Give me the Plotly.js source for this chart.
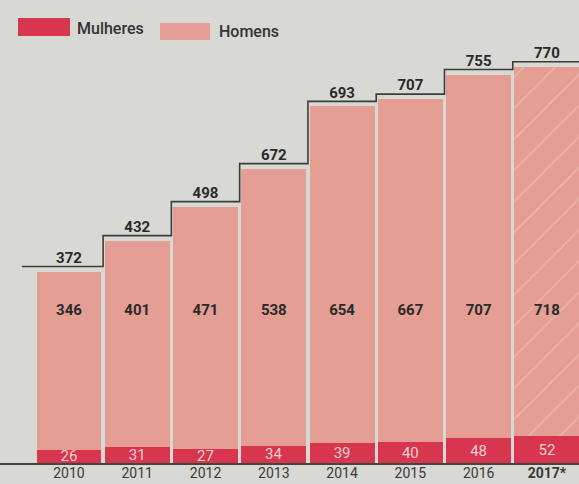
<!DOCTYPE html>
<html>
<head>
<meta charset="utf-8">
<script src="https://cdn.plot.ly/plotly-3.0.1.min.js"></script>
<style>html,body{margin:0;padding:0;background:#d8d8d4;}#chart{width:579px;height:484px;}</style>
</head>
<body>
<div id="chart"></div>
<script>
// ---- data ----
const years = ['2010', '2011', '2012', '2013', '2014', '2015', '2016', '<b>2017*</b>'];
const mulheres = [26, 31, 27, 34, 39, 40, 48, 52];
const homens = [346, 401, 471, 538, 654, 667, 707, 718];
const totalLabels = ['372', '432', '498', '672', '693', '707', '755', '770'];
const hatched = ['', '', '', '', '', '', '', '/'];

// ---- layout helpers ----
const W = 579, H = 484, MB = 21, PH = H - MB;
const px2x = p => p / W;
const px2y = p => (PH - p) / PH;

const idx = years.map((_, i) => i);
const sums = mulheres.map((m, i) => m + homens[i]);
const LINE_OFF = 10;      // step line gap above bars (data units)
const HOMENS_LABEL_Y = 295;

const stepX = [-0.69].concat(idx.slice(1).map(i => i - 0.5)).concat([idx.length - 0.5]);
const stepY = sums.concat([sums[sums.length - 1]]).map(v => v + LINE_OFF);

const FONT = 'Roboto, "Liberation Sans", sans-serif';
const RED = '#d8354f';
const PINK = '#e49e94';

const traces = [
  {
    type: 'bar', name: 'Mulheres', x: idx, y: mulheres,
    text: mulheres.map(String), textposition: 'inside', insidetextanchor: 'middle',
    textangle: 0, constraintext: 'none', cliponaxis: false,
    textfont: {family: FONT, size: 15, color: '#f6d0d0'},
    marker: {color: RED, line: {width: 0}}, hoverinfo: 'skip'
  },
  {
    type: 'bar', name: 'Homens', x: idx, y: homens,
    textposition: 'none',
    marker: {color: PINK, line: {width: 0},
      pattern: {shape: hatched, fillmode: 'overlay', fgcolor: '#f3cfc8', size: 22, solidity: 0.07}},
    hoverinfo: 'skip'
  },
  {
    type: 'scatter', mode: 'text', x: idx, y: homens.map(() => HOMENS_LABEL_Y),
    text: homens.map(String), textposition: 'middle center',
    textfont: {family: FONT, size: 15, color: '#2a2a2a', weight: 'bold'},
    hoverinfo: 'skip', showlegend: false, cliponaxis: false
  },
  {
    type: 'scatter', mode: 'lines', x: stepX, y: stepY,
    line: {shape: 'hv', color: '#3c3c3c', width: 1.6},
    hoverinfo: 'skip', showlegend: false
  },
  {
    type: 'scatter', mode: 'text', x: idx, y: sums.map(v => v + LINE_OFF),
    text: totalLabels, textposition: 'top center',
    textfont: {family: FONT, size: 15, color: '#2a2a2a', weight: 'bold'},
    hoverinfo: 'skip', showlegend: false, cliponaxis: false
  }
];

const layout = {
  width: W, height: H,
  margin: {l: 0, r: 0, t: 0, b: MB, pad: 0},
  paper_bgcolor: '#d8d8d4', plot_bgcolor: '#d8d8d4',
  barmode: 'stack', bargap: 0.05,
  showlegend: false,
  xaxis: {
    range: [-1.01, 7.47], tickmode: 'array', tickvals: idx, ticktext: years,
    showgrid: false, zeroline: false, showline: true, linecolor: '#444', linewidth: 1.5,
    ticks: '', ticklabelstandoff: -3,
    tickfont: {family: FONT, size: 14, color: '#3a3a3a'}, fixedrange: true
  },
  yaxis: {range: [0, 900], visible: false, showgrid: false, zeroline: false, fixedrange: true},
  shapes: [
    {type: 'rect', xref: 'paper', yref: 'paper', x0: px2x(18), x1: px2x(70), y0: px2y(36), y1: px2y(18),
     fillcolor: RED, line: {width: 0}},
    {type: 'rect', xref: 'paper', yref: 'paper', x0: px2x(160), x1: px2x(210), y0: px2y(40), y1: px2y(23),
     fillcolor: PINK, line: {width: 0}}
  ],
  annotations: [
    {xref: 'paper', yref: 'paper', x: px2x(75), y: px2y(28), xanchor: 'left', yanchor: 'middle',
     text: 'Mulheres', showarrow: false, font: {family: FONT, size: 16, color: '#333', weight: 500}},
    {xref: 'paper', yref: 'paper', x: px2x(217), y: px2y(32), xanchor: 'left', yanchor: 'middle',
     text: 'Homens', showarrow: false, font: {family: FONT, size: 16, color: '#333', weight: 500}}
  ]
};

Plotly.newPlot('chart', traces, layout, {staticPlot: true, displayModeBar: false});
</script>
</body>
</html>
